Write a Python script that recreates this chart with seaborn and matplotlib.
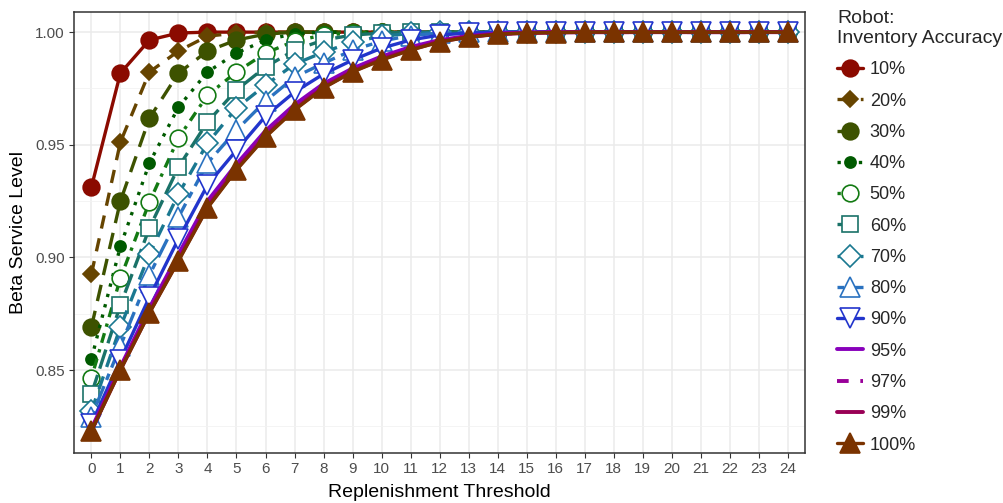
import numpy as np
import pandas as pd
import matplotlib
matplotlib.use("Agg")
import matplotlib.pyplot as plt
import seaborn as sns
from matplotlib.ticker import FixedLocator

# ---------------- data ----------------
thresholds = list(range(25))
tick_labels = [str(t) for t in thresholds]
accuracy_labels = ["10%", "20%", "30%", "40%", "50%", "60%", "70%", "80%", "90%", "95%", "97%", "99%", "100%"]

s10 = [0.9312, 0.9818, 0.9965, 0.9996, 1.0, 1.0, 1.0, 1.0, 1.0, 1.0, 1.0, 1.0, 1.0,
       1.0, 1.0, 1.0, 1.0, 1.0, 1.0, 1.0, 1.0, 1.0, 1.0, 1.0, 1.0]
s20 = [0.8926, 0.9512, 0.9823, 0.9916, 0.9982, 0.9996, 1.0, 1.0, 1.0, 1.0, 1.0, 1.0, 1.0,
       1.0, 1.0, 1.0, 1.0, 1.0, 1.0, 1.0, 1.0, 1.0, 1.0, 1.0, 1.0]
s30 = [0.8691, 0.9250, 0.9618, 0.9818, 0.9916, 0.9965, 0.9991, 1.0, 1.0, 1.0, 1.0, 1.0, 1.0,
       1.0, 1.0, 1.0, 1.0, 1.0, 1.0, 1.0, 1.0, 1.0, 1.0, 1.0, 1.0]
s40 = [0.8549, 0.9050, 0.9419, 0.9667, 0.9823, 0.9907, 0.9965, 0.9993, 1.0, 1.0, 1.0, 1.0, 1.0,
       1.0, 1.0, 1.0, 1.0, 1.0, 1.0, 1.0, 1.0, 1.0, 1.0, 1.0, 1.0]
s50 = [0.8465, 0.8908, 0.9246, 0.9530, 0.9720, 0.9823, 0.9907, 0.9960, 0.9987, 0.9996, 1.0, 1.0, 1.0,
       1.0, 1.0, 1.0, 1.0, 1.0, 1.0, 1.0, 1.0, 1.0, 1.0, 1.0, 1.0]
s60 = [0.8394, 0.8789, 0.9130, 0.9401, 0.9601, 0.9743, 0.9845, 0.9920, 0.9965, 0.9987, 0.9996, 1.0, 1.0,
       1.0, 1.0, 1.0, 1.0, 1.0, 1.0, 1.0, 1.0, 1.0, 1.0, 1.0, 1.0]
s70 = [0.8318, 0.8691, 0.9015, 0.9281, 0.9507, 0.9663, 0.9765, 0.9858, 0.9911, 0.9956, 0.9982, 0.9994, 1.0,
       1.0, 1.0, 1.0, 1.0, 1.0, 1.0, 1.0, 1.0, 1.0, 1.0, 1.0, 1.0]
s80 = [0.8292, 0.8607, 0.8922, 0.9179, 0.9419, 0.9565, 0.9694, 0.9800, 0.9862, 0.9920, 0.9960, 0.9985, 0.9996,
       1.0, 1.0, 1.0, 1.0, 1.0, 1.0, 1.0, 1.0, 1.0, 1.0, 1.0, 1.0]
s90 = [0.8261, 0.8545, 0.8824, 0.9082, 0.9321, 0.9476, 0.9627, 0.9734, 0.9814, 0.9876, 0.9929, 0.9965, 0.9987,
       0.9996, 1.0, 1.0, 1.0, 1.0, 1.0, 1.0, 1.0, 1.0, 1.0, 1.0, 1.0]
s95 = [0.8240, 0.8514, 0.8775, 0.9014, 0.9250, 0.9414, 0.9562, 0.9678, 0.9771, 0.9839, 0.9892, 0.9934, 0.9965,
       0.9983, 0.9994, 0.9998, 1.0, 1.0, 1.0, 1.0, 1.0, 1.0, 1.0, 1.0, 1.0]
s97 = [0.8235, 0.8507, 0.8764, 0.8999, 0.9234, 0.9401, 0.9548, 0.9666, 0.9761, 0.9831, 0.9884, 0.9927, 0.9961,
       0.9981, 0.9992, 0.9997, 1.0, 1.0, 1.0, 1.0, 1.0, 1.0, 1.0, 1.0, 1.0]
s99 = [0.8232, 0.8502, 0.8757, 0.8989, 0.9224, 0.9392, 0.9539, 0.9658, 0.9755, 0.9826, 0.9879, 0.9922, 0.9958,
       0.9979, 0.9991, 0.9996, 0.9998, 1.0, 1.0, 1.0, 1.0, 1.0, 1.0, 1.0, 1.0]
s100 = [0.8230, 0.8500, 0.8753, 0.8984, 0.9219, 0.9388, 0.9534, 0.9654, 0.9752, 0.9823, 0.9876, 0.9920, 0.9956,
        0.9978, 0.9991, 0.9996, 0.9998, 1.0, 1.0, 1.0, 1.0, 1.0, 1.0, 1.0, 1.0]

series = [s10, s20, s30, s40, s50, s60, s70, s80, s90, s95, s97, s99, s100]

rows = []
for lab, vals in zip(accuracy_labels, series):
    for t, v in zip(thresholds, vals):
        rows.append({"Accuracy": lab, "Threshold": t, "Service": v})
df = pd.DataFrame(rows)

# ---------------- styles ----------------
styles = {
    "10%":  dict(color="#8B0A00", marker="o", ms=12, ls="-", mfc="#8B0A00", lw=2.4),
    "20%":  dict(color="#664400", marker="D", ms=8.5, ls=(0, (4, 3)), mfc="#664400", lw=2.4),
    "30%":  dict(color="#3D5200", marker="o", ms=12, ls=(0, (5, 3)), mfc="#3D5200", lw=2.4),
    "40%":  dict(color="#005A00", marker="o", ms=8, ls=(0, (1, 2.2)), mfc="#005A00", lw=2.4),
    "50%":  dict(color="#137A13", marker="o", ms=12, ls=(0, (1, 2, 3, 2)), mfc="white", lw=2.4),
    "60%":  dict(color="#1A7268", marker="s", ms=11, ls=(0, (6, 2)), mfc="white", lw=2.4),
    "70%":  dict(color="#1A7890", marker="D", ms=11, ls=(0, (4, 3)), mfc="white", lw=2.4),
    "80%":  dict(color="#2A72C0", marker="^", ms=14, ls=(0, (2, 2, 6, 2)), mfc="white", lw=2.4),
    "90%":  dict(color="#2235CC", marker="v", ms=14, ls="-", mfc="white", lw=2.4),
    "95%":  dict(color="#8800BB", marker=None, ms=0, ls="-", mfc="none", lw=2.8),
    "97%":  dict(color="#990099", marker=None, ms=0, ls=(0, (3, 3)), mfc="none", lw=2.8),
    "99%":  dict(color="#990055", marker=None, ms=0, ls="-", mfc="none", lw=2.8),
    "100%": dict(color="#7A3300", marker="^", ms=14, ls="-", mfc="#7A3300", lw=2.4),
}

sns.set_theme(style="white")
plt.rcParams["font.family"] = ["Liberation Sans", "DejaVu Sans"]

fig, ax = plt.subplots(figsize=(10.04, 5.03), dpi=100)
fig.subplots_adjust(left=0.0737, right=0.802, top=0.976, bottom=0.0994)

for lab in accuracy_labels:
    st = styles[lab]
    sub = df[df["Accuracy"] == lab]
    kw = {}
    if st["marker"] is not None:
        kw = dict(marker=st["marker"], markersize=st["ms"], markerfacecolor=st["mfc"],
                  markeredgecolor=st["color"], markeredgewidth=1.2)
    sns.lineplot(data=sub, x="Threshold", y="Service", ax=ax, color=st["color"],
                 linestyle=st["ls"], linewidth=st["lw"], label=lab, **kw)

ax.set_xlim(-0.6, 24.6)
ax.set_ylim(0.8132, 1.0089)
ax.xaxis.set_major_locator(FixedLocator(thresholds))
ax.set_xticklabels(tick_labels)
ax.yaxis.set_major_locator(FixedLocator([0.85, 0.90, 0.95, 1.00]))
ax.yaxis.set_minor_locator(FixedLocator([0.825, 0.875, 0.925, 0.975]))
ax.set_yticklabels(["0.85", "0.90", "0.95", "1.00"])

ax.set_axisbelow(True)
ax.grid(which="major", color="#EBEBEB", linewidth=1.1)
ax.grid(which="minor", axis="y", color="#F2F2F2", linewidth=0.6)
for sp in ax.spines.values():
    sp.set_color("#333333")
    sp.set_linewidth(1.1)
ax.tick_params(axis="both", which="major", length=3.5, width=0.8, color="#333333",
               labelcolor="#4D4D4D", labelsize=11, direction="out", bottom=True, left=True, pad=3)
ax.tick_params(axis="y", which="minor", length=0)

ax.set_xlabel("Replenishment Threshold", fontsize=14, color="black", labelpad=6)
ax.set_ylabel("Beta Service Level", fontsize=14, color="black", labelpad=6)

leg = ax.legend(title="Robot:\nInventory Accuracy", loc="upper left",
                bbox_to_anchor=(1.034, 1.02), frameon=False, fontsize=13,
                title_fontsize=14, labelspacing=0.79, handlelength=1.45,
                handletextpad=0.35, borderaxespad=0.0, numpoints=1)
leg._legend_box.align = "left"

fig.savefig("out.png", dpi=100)
